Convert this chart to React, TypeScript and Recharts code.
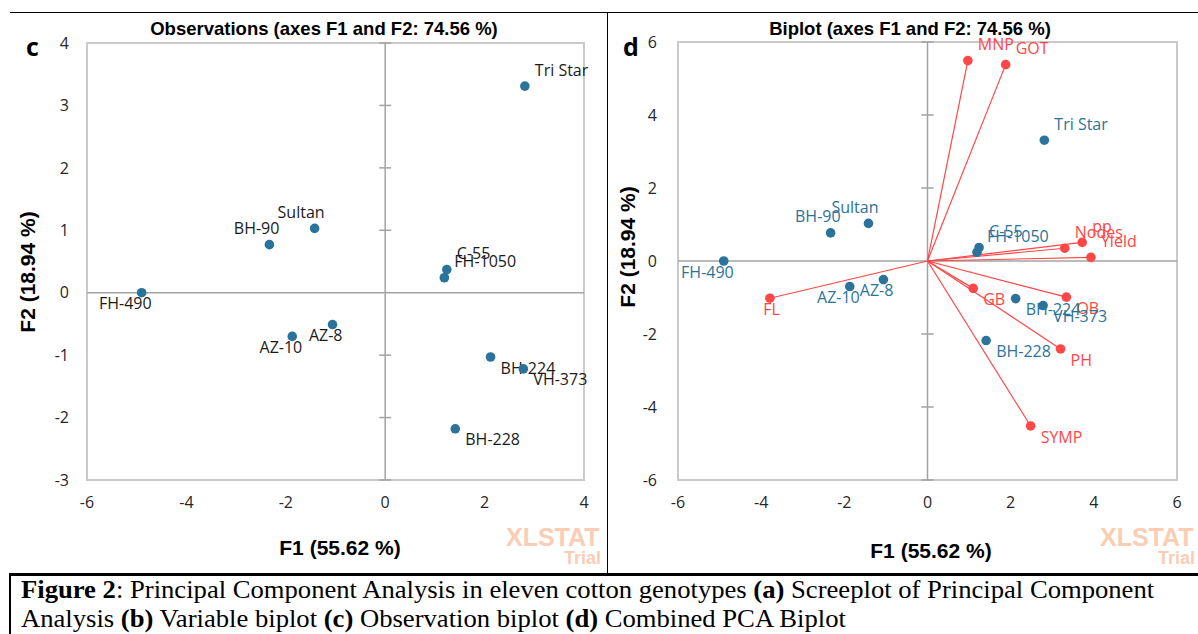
import React from "react";
import {
  ReferenceArea,
  ReferenceLine,
  Scatter,
  ScatterChart,
  XAxis,
  YAxis,
} from "recharts";

// ---------------------------------------------------------------------------
// Data (PCA scores / loadings, F1 x F2)
// ---------------------------------------------------------------------------

const OBS_NAMES = ["Tri Star", "Sultan", "BH-90", "C-55", "FH-1050", "FH-490", "AZ-8", "AZ-10", "BH-224", "VH-373", "BH-228"];
const OBS_F1 = [2.81, -1.42, -2.33, 1.24, 1.19, -4.9, -1.06, -1.87, 2.12, 2.78, 1.41];
const OBS_F2 = [3.31, 1.03, 0.77, 0.37, 0.24, 0.0, -0.51, -0.7, -1.03, -1.22, -2.18];

const VAR_NAMES = ["MNP", "GOT", "pp", "Nodes", "Yield", "FL", "GB", "OB", "PH", "SYMP"];
const VAR_F1 = [0.97, 1.88, 3.72, 3.3, 3.93, -3.79, 1.1, 3.34, 3.2, 2.48];
const VAR_F2 = [5.49, 5.38, 0.51, 0.35, 0.1, -1.02, -0.75, -0.99, -2.41, -4.52];

const LEFT_X_TICKS = [-6, -4, -2, 0, 2, 4];
const LEFT_Y_TICKS = [-3, -2, -1, 0, 1, 2, 3, 4];
const RIGHT_X_TICKS = [-6, -4, -2, 0, 2, 4, 6];
const RIGHT_Y_TICKS = [-6, -4, -2, 0, 2, 4, 6];

// where each label sits relative to its point
const LABEL_POS: Record<string, string> = {
  "Tri Star": "ur", Sultan: "ul", "BH-90": "ul", "C-55": "ur", "FH-1050": "ur",
  "FH-490": "ll", "AZ-8": "ll", "AZ-10": "ll", "BH-224": "lr", "VH-373": "lr", "BH-228": "lr",
  MNP: "ur", GOT: "ur", pp: "ur", Nodes: "ur", Yield: "ur",
  FL: "ll", GB: "lr", OB: "lr", PH: "lr", SYMP: "lr",
};

const BLUE = "#2b739a";
const RED = "#ff4747";
const BORDER = "#cacaca";
const ZERO = "#a3a3a3";
const TICK = { fill: "#262626", fontSize: 16, fontFamily: "Open Sans" };
const LABEL_FONT = "Open Sans";

const observations = OBS_NAMES.map((name, i) => ({ name, x: OBS_F1[i], y: OBS_F2[i] }));
const vectors = VAR_NAMES.map((name, i) => [
  { x: 0, y: 0 },
  { name, x: VAR_F1[i], y: VAR_F2[i] },
]);

function makeDot(color: string, textColor: string) {
  return (props: any) => {
    const { cx, cy, payload } = props;
    if (!payload || !payload.name) return <g />;
    const pos = LABEL_POS[payload.name] ?? "ur";
    const right = pos === "ur" || pos === "lr";
    const up = pos === "ur" || pos === "ul";
    return (
      <g>
        <circle cx={cx} cy={cy} r={4.8} fill={color} />
        <text
          x={cx + 10}
          y={cy + (up ? -16 : 11)}
          dy="0.35em"
          textAnchor={right ? "start" : "end"}
          fill={textColor}
          fontSize={16}
          fontFamily={LABEL_FONT}
        >
          {payload.name}
        </text>
      </g>
    );
  };
}

function axisTicks(ticks: number[], half: number) {
  return ticks
    .filter((t) => t !== 0)
    .map((t) => (
      <ReferenceLine
        key={`t${t}`}
        segment={[{ x: -half, y: t }, { x: half, y: t }]}
        stroke={ZERO}
        strokeWidth={1.5}
      />
    ));
}

function ObservationChart() {
  return (
    <ScatterChart width={600} height={575} margin={{ top: 43, right: 16, left: 47, bottom: 65 }}>
      <XAxis type="number" dataKey="x" domain={[-6, 4]} ticks={LEFT_X_TICKS} tick={TICK} axisLine={false} tickLine={false} tickMargin={11} height={30} />
      <YAxis type="number" dataKey="y" domain={[-3, 4]} ticks={LEFT_Y_TICKS} tick={TICK} axisLine={false} tickLine={false} tickMargin={12} width={40} />
      <ReferenceArea x1={-6} x2={4} y1={-3} y2={4} fill="none" stroke={BORDER} strokeWidth={2} />
      <ReferenceLine x={0} stroke={ZERO} strokeWidth={1.5} />
      <ReferenceLine y={0} stroke={ZERO} strokeWidth={1.5} />
      {axisTicks(LEFT_Y_TICKS, 0.12)}
      <Scatter data={observations} shape={makeDot(BLUE, "#1a1a1a")} isAnimationActive={false} />
    </ScatterChart>
  );
}

function BiplotChart() {
  return (
    <ScatterChart width={598} height={575} margin={{ top: 42, right: 21, left: 38, bottom: 65 }}>
      <XAxis type="number" dataKey="x" domain={[-6, 6]} ticks={RIGHT_X_TICKS} tick={TICK} axisLine={false} tickLine={false} tickMargin={11} height={30} />
      <YAxis type="number" dataKey="y" domain={[-6, 6]} ticks={RIGHT_Y_TICKS} tick={TICK} axisLine={false} tickLine={false} tickMargin={15} width={40} />
      <ReferenceArea x1={-6} x2={6} y1={-6} y2={6} fill="none" stroke={BORDER} strokeWidth={2} />
      <ReferenceLine x={0} stroke={ZERO} strokeWidth={1.5} />
      <ReferenceLine y={0} stroke={ZERO} strokeWidth={1.5} />
      {axisTicks(RIGHT_Y_TICKS, 0.15)}
      {vectors.map((v) => (
        <Scatter
          key={v[1].name}
          data={v}
          line={{ stroke: RED, strokeWidth: 1.2 }}
          shape={makeDot(RED, RED)}
          isAnimationActive={false}
        />
      ))}
      <Scatter data={observations} shape={makeDot(BLUE, BLUE)} isAnimationActive={false} />
    </ScatterChart>
  );
}

const abs = (style: React.CSSProperties): React.CSSProperties => ({ position: "absolute", whiteSpace: "nowrap", ...style });
const boldSans = { fontFamily: "Liberation Sans", fontWeight: 700, color: "#000" };
const watermark = { fontFamily: "Liberation Sans", fontWeight: 700, color: "#fbcdb4" };

export default function App() {
  return (
    <div style={{ position: "absolute", left: 0, top: 0, width: 1198, height: 634, background: "#fff", overflow: "hidden" }}>
      {/* frame */}
      <div style={abs({ left: 10, top: 12, width: 1188, height: 0, borderTop: "1.5px solid #000" })} />
      <div style={abs({ left: 607, top: 12, width: 0, height: 562, borderLeft: "1.5px solid #000" })} />
      <div style={abs({ left: 10, top: 573, width: 1188, height: 0, borderTop: "3px solid #000" })} />
      <div style={abs({ left: 9, top: 573, width: 0, height: 61, borderLeft: "2px solid #000" })} />

      {/* left panel */}
      <div style={abs({ left: 0, top: 0 })}>
        <ObservationChart />
      </div>
      <div style={abs({ left: 0, width: 648, top: 18, textAlign: "center", fontSize: 18.5, ...boldSans })}>
        Observations (axes F1 and F2: 74.56 %)
      </div>
      <div style={abs({ left: 26, top: 29, fontSize: 25, ...boldSans, fontFamily: "Open Sans" })}>c</div>
      <div style={abs({ left: 240, width: 200, top: 536, textAlign: "center", fontSize: 21, ...boldSans })}>F1 (55.62 %)</div>
      <div style={abs({ left: 28, top: 272, transform: "translate(-50%, -50%) rotate(-90deg)", fontSize: 21, ...boldSans })}>F2 (18.94 %)</div>
      <div style={abs({ left: 506, top: 523, fontSize: 25, ...watermark })}>XLSTAT</div>
      <div style={abs({ left: 564, top: 548, fontSize: 18, ...watermark })}>Trial</div>

      {/* right panel */}
      <div style={abs({ left: 600, top: 0 })}>
        <BiplotChart />
      </div>
      <div style={abs({ left: 610, width: 600, top: 18, textAlign: "center", fontSize: 18.5, ...boldSans })}>
        Biplot (axes F1 and F2: 74.56 %)
      </div>
      <div style={abs({ left: 623, top: 29, fontSize: 25, ...boldSans, fontFamily: "Open Sans" })}>d</div>
      <div style={abs({ left: 831, width: 200, top: 539, textAlign: "center", fontSize: 21, ...boldSans })}>F1 (55.62 %)</div>
      <div style={abs({ left: 628, top: 247, transform: "translate(-50%, -50%) rotate(-90deg)", fontSize: 21, ...boldSans })}>F2 (18.94 %)</div>
      <div style={abs({ left: 1100, top: 523, fontSize: 25, ...watermark })}>XLSTAT</div>
      <div style={abs({ left: 1158, top: 548, fontSize: 18, ...watermark })}>Trial</div>

      {/* caption */}
      <div
        style={abs({
          left: 21,
          top: 575,
          fontFamily: "Liberation Serif",
          fontSize: 25,
          lineHeight: "29px",
          color: "#000",
          transform: "scaleX(1.065)",
          transformOrigin: "left top",
        })}
      >
        <b>Figure 2</b>: Principal Component Analysis in eleven cotton genotypes <b>(a)</b> Screeplot of Principal Component
        <br />
        Analysis <b>(b)</b> Variable biplot <b>(c)</b> Observation biplot <b>(d)</b> Combined PCA Biplot
      </div>
    </div>
  );
}
